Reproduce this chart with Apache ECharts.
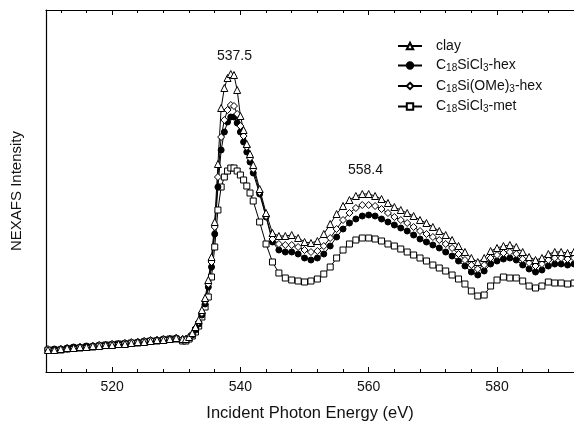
<!DOCTYPE html>
<html>
<head>
<meta charset="utf-8">
<script src="https://cdn.jsdelivr.net/npm/echarts@6/dist/echarts.min.js"></script>
<style>html,body{margin:0;padding:0;background:#fff}#c{width:574px;height:423px}</style>
</head>
<body>
<div id="c"></div>
<script>
// Photon energy (eV)
const energy = [
  510,511,512,513,514,515,516,517,518,519,520,521,522,523,524,525,526,527,528,529,530,531,
  531.5,532,532.5,533,533.5,534,534.5,535,535.5,536,536.5,537,537.5,538,538.5,539,539.5,540,540.5,541,541.5,542,
  543,544,545,546,547,548,549,550,551,552,553,554,555,556,557,558,559,560,561,562,
  563,564,565,566,567,568,569,570,571,572,573,574,575,576,577,578,579,580,581,582,
  583,584,585,586,587,588,589,590,591,592
];
const clay = [
  0.22,0.22,0.23,0.24,0.24,0.25,0.25,0.26,0.26,0.27,0.27,0.28,0.28,0.29,0.30,0.30,0.31,0.32,0.32,0.33,0.34,0.33,
  0.33,0.35,0.39,0.45,0.52,0.62,0.74,0.92,1.15,1.50,2.08,2.64,2.84,2.94,2.98,2.97,2.82,2.56,2.42,2.28,2.18,2.07,
  1.83,1.59,1.39,1.36,1.36,1.37,1.34,1.30,1.29,1.31,1.38,1.48,1.58,1.66,1.72,1.76,1.78,1.78,1.76,1.73,
  1.69,1.65,1.62,1.59,1.56,1.52,1.49,1.45,1.41,1.37,1.32,1.26,1.20,1.14,1.10,1.14,1.21,1.24,1.26,1.27,
  1.25,1.20,1.15,1.12,1.14,1.18,1.20,1.20,1.19,1.20
];
const sicl3Hex = [
  0.22,0.23,0.23,0.24,0.25,0.25,0.26,0.26,0.27,0.27,0.28,0.28,0.29,0.29,0.30,0.31,0.31,0.32,0.33,0.33,0.34,0.32,
  0.32,0.34,0.37,0.42,0.48,0.57,0.68,0.85,1.05,1.38,1.85,2.22,2.40,2.50,2.55,2.55,2.49,2.40,2.30,2.20,2.10,1.99,
  1.78,1.55,1.30,1.22,1.20,1.20,1.18,1.14,1.12,1.14,1.18,1.26,1.35,1.43,1.49,1.53,1.56,1.57,1.56,1.53,
  1.50,1.47,1.44,1.41,1.37,1.33,1.30,1.27,1.24,1.20,1.16,1.11,1.06,1.00,0.97,1.01,1.08,1.11,1.13,1.14,
  1.12,1.07,1.03,1.00,1.02,1.06,1.08,1.08,1.07,1.08
];
const omeHex = [
  0.23,0.22,0.23,0.23,0.24,0.25,0.25,0.26,0.27,0.27,0.28,0.28,0.29,0.30,0.30,0.31,0.32,0.32,0.33,0.33,0.34,0.33,
  0.33,0.35,0.38,0.44,0.50,0.59,0.71,0.88,1.10,1.45,1.95,2.35,2.52,2.62,2.67,2.66,2.58,2.46,2.36,2.25,2.14,2.03,
  1.80,1.56,1.33,1.28,1.27,1.27,1.25,1.22,1.20,1.21,1.26,1.34,1.43,1.52,1.59,1.64,1.67,1.67,1.66,1.63,
  1.59,1.55,1.52,1.49,1.45,1.41,1.38,1.35,1.32,1.28,1.24,1.18,1.12,1.07,1.03,1.07,1.14,1.17,1.19,1.20,
  1.18,1.13,1.09,1.06,1.08,1.12,1.14,1.14,1.13,1.14
];
const sicl3Met = [
  0.22,0.22,0.22,0.23,0.24,0.24,0.25,0.25,0.26,0.27,0.27,0.28,0.28,0.29,0.29,0.30,0.31,0.31,0.32,0.33,0.33,0.31,
  0.31,0.33,0.36,0.40,0.46,0.55,0.65,0.75,0.95,1.25,1.62,1.85,1.95,2.01,2.04,2.04,2.01,1.97,1.92,1.86,1.79,1.71,
  1.50,1.28,1.10,0.99,0.94,0.92,0.91,0.90,0.91,0.93,0.98,1.05,1.14,1.22,1.28,1.32,1.34,1.34,1.33,1.31,
  1.28,1.26,1.23,1.20,1.17,1.14,1.11,1.07,1.04,1.01,0.97,0.93,0.88,0.81,0.76,0.77,0.86,0.92,0.95,0.94,
  0.94,0.91,0.86,0.84,0.86,0.90,0.89,0.89,0.88,0.89
];
const seriesNames = ['clay','C18SiCl3-hex','C18Si(OMe)3-hex','C18SiCl3-met'];
const legendLabels = {
  'clay': 'clay',
  'C18SiCl3-hex': 'C{s|18}SiCl{s|3}-hex',
  'C18Si(OMe)3-hex': 'C{s|18}Si(OMe){s|3}-hex',
  'C18SiCl3-met': 'C{s|18}SiCl{s|3}-met'
};
const majorTicks = [520,540,560,580];
const minorTicks = [512,516,524,528,532,536,544,548,552,556,564,568,572,576,584,588];
const peakLabels = ['537.5','558.4'];

const pairs = arr => energy.map((e,i)=>[e,arr[i]]);
const FONT = 'Liberation Sans, Arial, Helvetica, sans-serif';
const XMIN = 509.7, XMAX = 592;

function mkSeries(name, arr, symbol, fill, size){
  return {
    name, type:'line', data: pairs(arr), xAxisIndex:0, yAxisIndex:0,
    symbol, symbolSize:size, showSymbol:true, showAllSymbol:true,
    lineStyle:{color:'#000', width:1},
    itemStyle:{color:fill, borderColor:'#000', borderWidth:1},
    emphasis:{disabled:true}, animation:false
  };
}

const axisBase = (pos, ticks, len, showLine, showLabel) => ({
  type:'value', position:pos, min:XMIN, max:XMAX,
  axisLine:{show:showLine, onZero:false, lineStyle:{color:'#000', width:1.2}},
  axisTick:{show:true, inside:true, length:len, customValues:ticks, lineStyle:{color:'#000', width:1}},
  axisLabel:{show:showLabel, customValues:majorTicks, color:'#111', fontFamily:FONT, fontSize:14, margin:8},
  splitLine:{show:false}
});

const chart = echarts.init(document.getElementById('c'), null, {renderer:'canvas'});
const bottomMain = axisBase('bottom', majorTicks, 5, true, true);
bottomMain.name = 'Incident Photon Energy (eV)';
bottomMain.nameLocation = 'middle';
bottomMain.nameGap = 33;
bottomMain.nameTextStyle = {fontFamily:FONT, fontSize:16.5, color:'#111'};
chart.setOption({
  animation:false,
  backgroundColor:'#fff',
  grid:{left:46, right:0, top:10, bottom:51, containLabel:false, outerBoundsMode:'none'},
  xAxis:[
    bottomMain,
    axisBase('bottom', minorTicks, 3, false, false),
    axisBase('top', majorTicks, 5, true, false),
    axisBase('top', minorTicks, 3, false, false)
  ],
  yAxis:[{
    type:'value', min:0, max:3.62,
    axisLine:{show:true, onZero:false, lineStyle:{color:'#000', width:1.2}},
    axisTick:{show:false}, axisLabel:{show:false}, splitLine:{show:false},
    name:'NEXAFS Intensity', nameLocation:'middle', nameGap:22, nameRotate:90,
    nameTextStyle:{fontFamily:FONT, fontSize:15, color:'#111'}
  }],
  legend:{
    data: seriesNames, orient:'vertical', left:392, top:34,
    itemWidth:24, itemHeight:8, itemGap:5.5,
    formatter: n => legendLabels[n],
    textStyle:{fontFamily:FONT, fontSize:14, color:'#111', padding:[0,0,0,9],
      rich:{s:{fontFamily:FONT, fontSize:10, color:'#111', padding:[6,0,0,0]}}}
  },
  series:[
    mkSeries('C18SiCl3-met', sicl3Met, 'rect', '#fff', 6),
    mkSeries('C18SiCl3-hex', sicl3Hex, 'circle', '#000', 6),
    mkSeries('C18Si(OMe)3-hex', omeHex, 'diamond', '#fff', 7),
    mkSeries('clay', clay, 'triangle', '#fff', 7)
  ],
  graphic:[
    {type:'text', left:217, top:49, style:{text:peakLabels[0], font:'14px '+FONT, fill:'#111'}},
    {type:'text', left:348, top:163, style:{text:peakLabels[1], font:'14px '+FONT, fill:'#111'}}
  ]
});
</script>
</body>
</html>
